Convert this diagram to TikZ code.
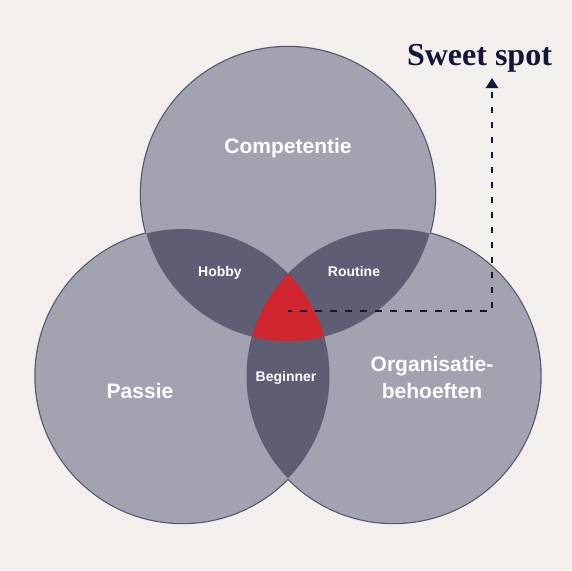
\documentclass[tikz,border=0pt]{standalone}
\usepackage{fontspec}
\setmainfont{Liberation Serif}
\newfontfamily\vennfont{Liberation Sans}
\usetikzlibrary{arrows.meta}

\definecolor{bgcream}{HTML}{F2EFEC}
\definecolor{vennlight}{HTML}{A3A2B1}
\definecolor{venndark}{HTML}{5E5D73}
\definecolor{vennred}{HTML}{D1262F}
\definecolor{vennrim}{HTML}{55556F}
\definecolor{navyink}{HTML}{14153A}

\begin{document}
\begin{tikzpicture}[x=1pt, y=-1pt,
    bigtxt/.style={font=\vennfont\bfseries\fontsize{21}{27}\selectfont, text=white, align=center, anchor=base},
    smalltxt/.style={font=\vennfont\bfseries\fontsize{14}{16}\selectfont, text=white, anchor=base},
    spotline/.style={navyink, line width=2.3pt, dash pattern=on 6.5pt off 8.5pt, dash phase=3pt}]
    % cadru 572 x 570, 1 unitate = 1 pixel, y in jos
    \fill[bgcream] (0,0) rectangle (572,570);
    \useasboundingbox (0,0) rectangle (572,570);

    % ===== centrele cercurilor (r = 147) =====
    \coordinate (comp) at (288,194);
    \coordinate (pass) at (182.5,376);
    \coordinate (orga) at (393.5,376);

    % contur: tras intai, jumatatea interioara acoperita de umplere
    \foreach \c in {comp, pass, orga} {
      \draw[vennrim, line width=2.4pt] (\c) circle (147);
    }
    \foreach \c in {comp, pass, orga} {
      \fill[vennlight] (\c) circle (147);
    }

    % ===== suprapuneri doua cate doua =====
    \foreach \ca/\cb in {comp/pass, comp/orga, pass/orga} {
      \begin{scope}
        \clip (\ca) circle (147);
        \fill[venndark] (\cb) circle (147);
      \end{scope}
    }

    % zona comuna (rosie)
    \begin{scope}
      \clip (comp) circle (147);
      \clip (pass) circle (147);
      \fill[vennred] (orga) circle (147);
    \end{scope}
    \coordinate (spot) at (288,311);

    % ===== etichete =====
    \node[bigtxt] (competentie) at (288,153) {Competentie};
    \node[bigtxt] (passie)      at (140,398) {Passie};
    \node[bigtxt] (organisatie) at (432,398) {Organisatie-\\behoeften};

    \node[smalltxt] (hobby)    at (220,276) {Hobby};
    \node[smalltxt] (routine)  at (354,276) {Routine};
    \node[smalltxt] (beginner) at (286,381) {Beginner};

    % ===== sweet spot =====
    \node[font=\bfseries\fontsize{32}{36}\selectfont, text=navyink, anchor=base]
      (sweet) at (479.5,65) {Sweet spot};
    \coordinate (corner) at (492,311);
    \coordinate (tip) at (492,78);
    \draw[spotline, -{Triangle[width=12pt,length=10pt]}] (spot) -- (corner) -- (tip);

  \end{tikzpicture}
\end{document}
